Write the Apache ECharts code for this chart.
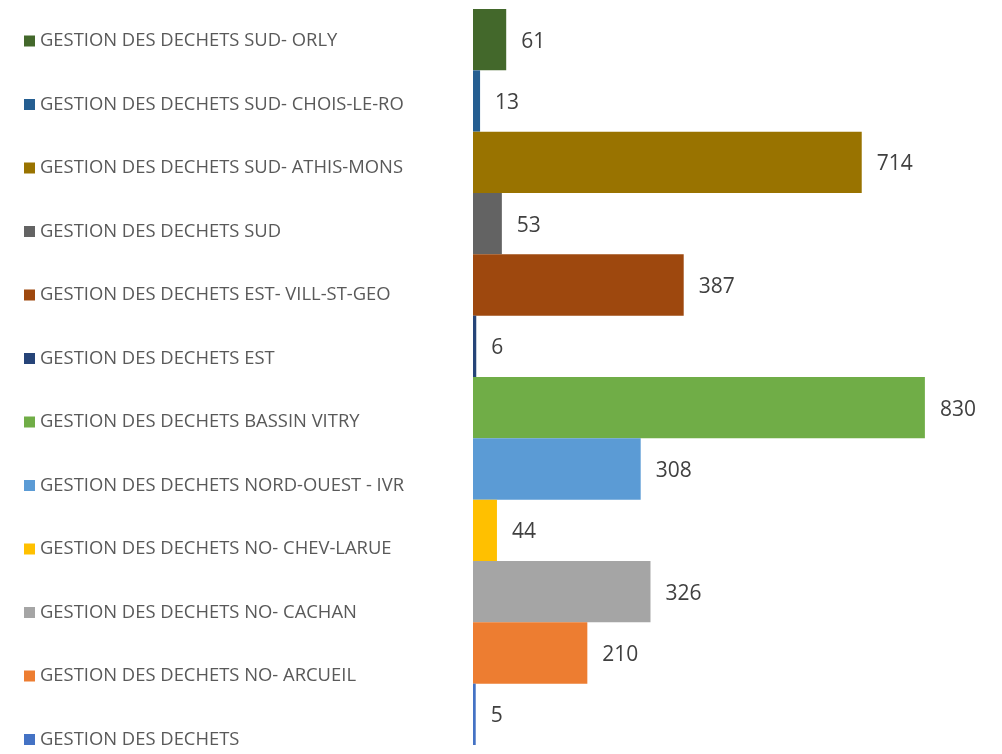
<!DOCTYPE html>
<html><head><meta charset="utf-8">
<script src="https://cdn.jsdelivr.net/npm/echarts@6/dist/echarts.min.js"></script>
<style>html,body{margin:0;padding:0;background:#fff}#c{width:1002px;height:754px}</style>
</head><body><div id="c"></div>
<script>
const categories = [
  "GESTION DES DECHETS SUD- ORLY",
  "GESTION DES DECHETS SUD- CHOIS-LE-RO",
  "GESTION DES DECHETS SUD- ATHIS-MONS",
  "GESTION DES DECHETS SUD",
  "GESTION DES DECHETS EST- VILL-ST-GEO",
  "GESTION DES DECHETS EST",
  "GESTION DES DECHETS BASSIN VITRY",
  "GESTION DES DECHETS NORD-OUEST - IVR",
  "GESTION DES DECHETS NO- CHEV-LARUE",
  "GESTION DES DECHETS NO- CACHAN",
  "GESTION DES DECHETS NO- ARCUEIL",
  "GESTION DES DECHETS"
];
const values = [61, 13, 714, 53, 387, 6, 830, 308, 44, 326, 210, 5];
const colors = ["#43682B","#255E91","#997300","#636363","#9E480E","#264478","#70AD47","#5B9BD5","#FFC000","#A5A5A5","#ED7D31","#4472C4"];

const series = categories.map((name, i) => ({
  name: name,
  type: 'bar',
  stack: 'all',
  barCategoryGap: '0%',
  itemStyle: { color: colors[i] },
  label: { show: true, position: 'right', distance: 15, offset: [0, 2], color: '#404040', fontSize: 21, fontFamily: 'Open Sans' },
  data: categories.map((c, j) => j === i ? values[i] : '-')
}));

const chart = echarts.init(document.getElementById('c'));
chart.setOption({
  animation: false,
  grid: { left: 473, right: 39, top: 9, bottom: 9 },
  xAxis: { type: 'value', min: 0, max: 900, show: false },
  yAxis: { type: 'category', data: categories, inverse: true, axisLine: { show: false }, axisTick: { show: false }, axisLabel: { show: false } },
  legend: {
    orient: 'vertical', left: 24, top: 32, height: 722, padding: 0,
    icon: 'rect', itemWidth: 11, itemHeight: 11, itemGap: 45.5,
    textStyle: { color: '#595959', fontSize: 18.4, fontFamily: 'Open Sans', lineHeight: 18 },
    data: categories
  },
  series: series
});
</script></body></html>
